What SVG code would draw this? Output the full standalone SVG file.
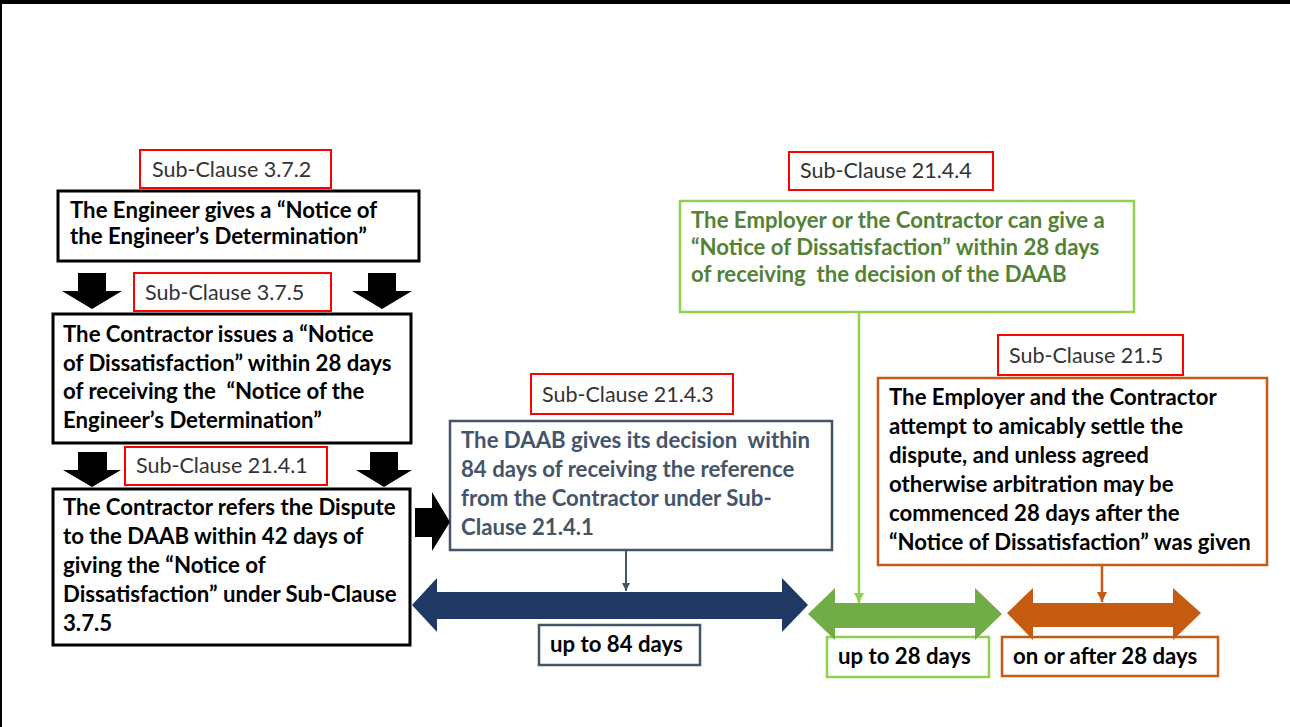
<svg xmlns="http://www.w3.org/2000/svg" width="1290" height="727" viewBox="0 0 1290 727">
  <style>
    .clause rect { fill: #ffffff; stroke: #ff0000; stroke-width: 2; }
    .clause text { font-family: Lato, "Liberation Sans", sans-serif; font-size: 21.5px; fill: #333333; }
    .body { font-family: Lato, "Liberation Sans", sans-serif; font-size: 22.2px; font-weight: bold; }
    .blk rect { fill: #ffffff; stroke: #000000; stroke-width: 3; }
    .blk text { fill: #000000; }
    .slate rect { fill: #ffffff; stroke: #44546a; stroke-width: 2.5; }
    .slate text { fill: #44546a; }
    .green rect { fill: #ffffff; stroke: #92d050; stroke-width: 2.5; }
    .green text { fill: #548235; }
    .orange rect { fill: #ffffff; stroke: #c55a11; stroke-width: 2.5; }
    .orange text { fill: #000000; }
    .span text { fill: #000000; }
    .block-arrow { fill: #000000; }
  </style>
  <defs>
    <marker id="tip-slate" markerWidth="10" markerHeight="10" refX="8" refY="5" orient="auto" markerUnits="userSpaceOnUse">
      <path d="M0,1 L8,5 L0,9 Z" fill="#44546a"/>
    </marker>
    <marker id="tip-green" markerWidth="12" markerHeight="12" refX="10" refY="6" orient="auto" markerUnits="userSpaceOnUse">
      <path d="M0,1 L10,6 L0,11 Z" fill="#92d050"/>
    </marker>
    <marker id="tip-orange" markerWidth="12" markerHeight="12" refX="10" refY="6" orient="auto" markerUnits="userSpaceOnUse">
      <path d="M0,1 L10,6 L0,11 Z" fill="#c55a11"/>
    </marker>
  </defs>

  <!-- page background and frame edges -->
  <rect x="0" y="0" width="1290" height="727" fill="#ffffff"/>
  <rect x="0" y="0" width="1290" height="4" fill="#000000"/>
  <rect x="0" y="0" width="2" height="727" fill="#000000"/>

  <!-- Sub-Clause 3.7.2 -->
  <g id="clause-3-7-2" class="clause">
    <rect x="140" y="150" width="191" height="38"/>
    <text x="152" y="177">Sub-Clause 3.7.2</text>
  </g>
  <g id="engineer-determination" class="blk">
    <rect x="58" y="191" width="361" height="70"/>
    <text class="body" x="70" y="218">The Engineer gives a “Notice of</text>
    <text class="body" x="70" y="244">the Engineer’s Determination”</text>
  </g>

  <!-- Sub-Clause 3.7.5 -->
  <g id="clause-3-7-5" class="clause">
    <rect x="134" y="273" width="197" height="38"/>
    <text x="145" y="300">Sub-Clause 3.7.5</text>
  </g>
  <g id="notice-dissatisfaction-contractor" class="blk">
    <rect x="53" y="314" width="358" height="129"/>
    <text class="body" x="63" y="342">The Contractor issues a “Notice</text>
    <text class="body" x="63" y="371">of Dissatisfaction” within 28 days</text>
    <text class="body" x="63" y="399" xml:space="preserve">of receiving the  “Notice of the</text>
    <text class="body" x="63" y="428">Engineer’s Determination”</text>
  </g>

  <!-- Sub-Clause 21.4.1 -->
  <g id="clause-21-4-1" class="clause">
    <rect x="125" y="447" width="202" height="38"/>
    <text x="136" y="473">Sub-Clause 21.4.1</text>
  </g>
  <g id="refer-to-daab" class="blk">
    <rect x="53" y="489" width="357" height="156"/>
    <text class="body" x="63" y="515">The Contractor refers the Dispute</text>
    <text class="body" x="63" y="544">to the DAAB within 42 days of</text>
    <text class="body" x="63" y="573">giving the “Notice of</text>
    <text class="body" x="63" y="602">Dissatisfaction” under Sub-Clause</text>
    <text class="body" x="63" y="631">3.7.5</text>
  </g>

  <!-- Sub-Clause 21.4.3 -->
  <g id="clause-21-4-3" class="clause">
    <rect x="531" y="374" width="202" height="40"/>
    <text x="542" y="402">Sub-Clause 21.4.3</text>
  </g>
  <g id="daab-decision" class="slate">
    <rect x="450" y="421" width="382" height="129"/>
    <text class="body" x="461" y="448" xml:space="preserve">The DAAB gives its decision  within</text>
    <text class="body" x="461" y="477">84 days of receiving the reference</text>
    <text class="body" x="461" y="506">from the Contractor under Sub-</text>
    <text class="body" x="461" y="535">Clause 21.4.1</text>
  </g>

  <!-- Sub-Clause 21.4.4 -->
  <g id="clause-21-4-4" class="clause">
    <rect x="789" y="152" width="204" height="38"/>
    <text x="800" y="178">Sub-Clause 21.4.4</text>
  </g>
  <g id="notice-dissatisfaction-daab" class="green">
    <rect x="680" y="201" width="454" height="111"/>
    <text class="body" x="691" y="228">The Employer or the Contractor can give a</text>
    <text class="body" x="691" y="255">“Notice of Dissatisfaction” within 28 days</text>
    <text class="body" x="691" y="282" xml:space="preserve">of receiving  the decision of the DAAB</text>
  </g>

  <!-- Sub-Clause 21.5 -->
  <g id="clause-21-5" class="clause">
    <rect x="998" y="335" width="185" height="40"/>
    <text x="1009" y="363">Sub-Clause 21.5</text>
  </g>
  <g id="amicable-settlement" class="orange">
    <rect x="878" y="378" width="389" height="187"/>
    <text class="body" x="889" y="405">The Employer and the Contractor</text>
    <text class="body" x="889" y="434">attempt to amicably settle the</text>
    <text class="body" x="889" y="463">dispute, and unless agreed</text>
    <text class="body" x="889" y="492">otherwise arbitration may be</text>
    <text class="body" x="889" y="521">commenced 28 days after the</text>
    <text class="body" x="889" y="550">“Notice of Dissatisfaction” was given</text>
  </g>

  <!-- period labels (drawn under the span arrows) -->
  <g id="period-84" class="span slate">
    <rect x="539" y="625" width="161" height="40"/>
    <text class="body" x="550" y="652" style="fill:#000000">up to 84 days</text>
  </g>
  <g id="period-28" class="span green">
    <rect x="827" y="637" width="162" height="40"/>
    <text class="body" x="838" y="664" style="fill:#000000">up to 28 days</text>
  </g>
  <g id="period-after-28" class="span orange">
    <rect x="1002" y="637" width="216" height="39"/>
    <text class="body" x="1013" y="664">on or after 28 days</text>
  </g>

  <!-- time span double arrows -->
  <g id="span-84">
    <polygon fill="#203864" points="412,605 437,578 437,592 782,592 782,578 808,605 782,632 782,619 437,619 437,632"/>
  </g>
  <g id="span-28">
    <polygon fill="#70ad47" points="808,614 835,588 835,603 975,603 975,588 1002,614 975,640 975,628 835,628 835,640"/>
  </g>
  <g id="span-after-28">
    <polygon fill="#c55a11" points="1007,613 1033,588 1033,603 1173,603 1173,588 1201,613 1173,640 1173,627 1033,627 1033,640"/>
  </g>

  <!-- connectors -->
  <g id="connectors">
    <path class="block-arrow" d="M78,273 H106 V291 H122 L92,309 L62,291 H78 Z"/>
    <path class="block-arrow" d="M368,273 H396 V291 H412 L382,309 L352,291 H368 Z"/>
    <path class="block-arrow" d="M78,452 H107 V470 H121 L92,487 L63,470 H78 Z"/>
    <path class="block-arrow" d="M370,452 H398 V470 H412 L384,487 L356,470 H370 Z"/>
    <path class="block-arrow" d="M415,508 H432 V492 L450,522 L432,551 V537 H415 Z"/>
    <line x1="626" y1="550" x2="626" y2="591" stroke="#44546a" stroke-width="2" marker-end="url(#tip-slate)"/>
    <line x1="859" y1="312" x2="859" y2="603" stroke="#92d050" stroke-width="2.5" marker-end="url(#tip-green)"/>
    <line x1="1102" y1="565" x2="1102" y2="602" stroke="#c55a11" stroke-width="2.5" marker-end="url(#tip-orange)"/>
  </g>
</svg>
